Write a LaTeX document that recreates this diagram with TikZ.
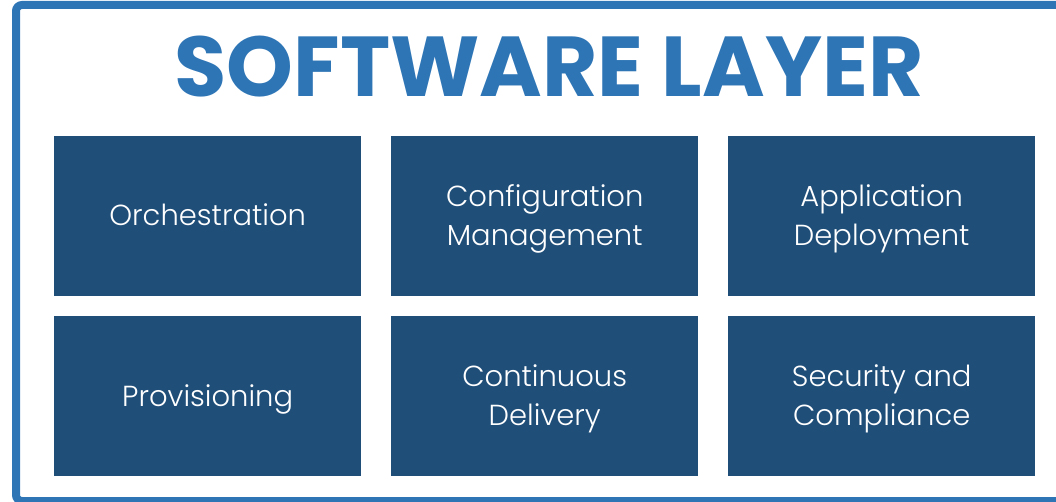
\documentclass[tikz,border=0pt]{standalone}
\usepackage{fontspec}
\setmainfont{Poppins}
\newfontfamily\tilefont{Poppins Light}
\definecolor{boxblue}{HTML}{1F4E79}
\definecolor{lineblue}{HTML}{2E75B6}
\begin{document}
\begin{tikzpicture}[x=1pt,y=-1pt,
  tile/.style={fill=boxblue, draw=none, minimum width=307pt, minimum height=160pt, inner sep=0pt, anchor=north west},
  tiletext/.style={text=white, align=center, font=\tilefont\fontsize{29}{39}\selectfont}]
\useasboundingbox (0,0) rectangle (1056,502);
\draw[lineblue, line width=8pt, rounded corners=6pt] (16,5) rectangle (1070,501);
\node[text=lineblue, font=\fontsize{85}{90}\bfseries\selectfont, inner sep=0pt] (title) at (549,67) {SOFTWARE LAYER};
\node[tile] (b1) at (54,136) {};
\node[tile] (b2) at (391,136) {};
\node[tile] (b3) at (728,136) {};
\node[tile] (b4) at (54,316) {};
\node[tile] (b5) at (391,316) {};
\node[tile] (b6) at (728,316) {};
\node[tiletext] (t1) at ([yshift=1pt]b1.center) {Orchestration};
\node[tiletext] (t2) at ([yshift=-3pt]b2.center) {Configuration\\Management};
\node[tiletext] (t3) at ([yshift=-3pt]b3.center) {Application\\Deployment};
\node[tiletext] (t4) at ([yshift=-3pt]b4.center) {Provisioning};
\node[tiletext] (t5) at ([yshift=-3pt]b5.center) {Continuous\\Delivery};
\node[tiletext] (t6) at ([yshift=-3pt]b6.center) {Security and\\Compliance};
\end{tikzpicture}
\end{document}
